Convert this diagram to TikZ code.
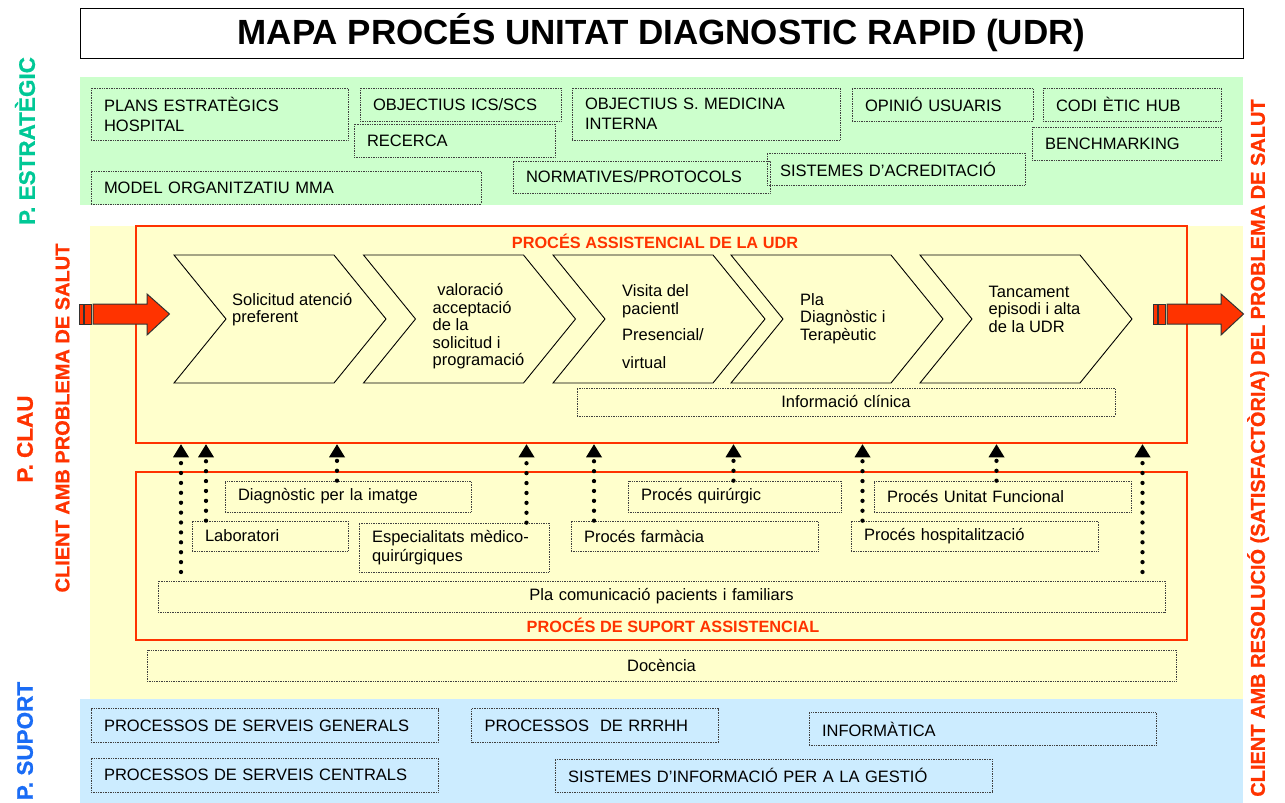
\documentclass[tikz,border=0pt]{standalone}
\usepackage{fontspec}
\setmainfont{Liberation Sans}
\setsansfont{Liberation Sans}
\newfontfamily\sidefont{Liberation Sans Bold}[FakeBold=0.8]
\usetikzlibrary{arrows.meta}

\definecolor{redudr}{HTML}{FF3300}
\definecolor{greenbg}{HTML}{CCFFCC}
\definecolor{yellowbg}{HTML}{FFFFCC}
\definecolor{bluebg}{HTML}{CCECFF}
\definecolor{tealstrat}{HTML}{00C896}
\definecolor{bluesup}{HTML}{1A6CF5}

\begin{document}
\begin{tikzpicture}[x = 1pt, y = -1pt, font=\sffamily]
	\tikzstyle{dotbox}=[draw = black!75, densely dotted, line width = 0.7pt, inner xsep = 13pt, inner ysep = 0pt, align = left, font = \fontsize{16.5}{20}\selectfont]
	\tikzstyle{procbox}=[draw = redudr, line width = 2.5pt]
	\tikzstyle{proctitle}=[text = redudr, inner sep = 0pt, font = \bfseries\fontsize{16.3}{18}\selectfont]
	\tikzstyle{chevron}=[draw = black, line width = 0.9pt, fill = yellowbg]
	\tikzstyle{steptext}=[inner sep = 0pt, align = left, anchor = west, font = \fontsize{16.5}{17.5}\selectfont]
	\tikzstyle{sidelabel}=[rotate = 90, inner sep = 0pt, font = \sidefont\fontsize{22.5}{24}\selectfont]
	\tikzstyle{clientlabel}=[rotate = 90, inner sep = 0pt, text = redudr, font = \sidefont\fontsize{20}{22}\selectfont]
	\tikzstyle{bigarrow}=[fill = redudr, draw = black!80, line width = 1pt]
	\tikzstyle{suparrow}=[line width = 4.3pt, line cap = round, dash pattern = on 0pt off 9.9pt, -{Triangle[width = 16pt, length = 13pt, line width = 0pt]}]
	\useasboundingbox (0,0) rectangle (1285,803);
	% bands
	\fill[greenbg] (80,77) rectangle (1243,205);
	\fill[yellowbg] (90,226) rectangle (1243,699);
	\fill[bluebg] (80,699) rectangle (1243,803);
	% title
	\node[draw, line width = 1pt, minimum width = 1163pt, minimum height = 50pt, font = \bfseries\fontsize{35}{38}\selectfont] (title) at (661.5,33) {MAPA PROCÉS UNITAT DIAGNOSTIC RAPID (UDR)};
	% side labels
	\node[sidelabel, text = tealstrat] (pestrat) at (25,141) {P. ESTRATÈGIC};
	\node[sidelabel, text = redudr] (pclau) at (25,439) {P. CLAU};
	\node[sidelabel, text = bluesup] (psuport) at (25,741) {P. SUPORT};
	\node[clientlabel] (clientin) at (62.5,418) {CLIENT AMB PROBLEMA DE SALUT};
	\node[clientlabel] (clientout) at (1258,448) {CLIENT AMB RESOLUCIÓ (SATISFACTÒRIA) DEL PROBLEMA DE SALUT};
	% estrategic
	\node[dotbox, text width = 231pt, minimum height = 52pt] (plans) at (219.5,114) {PLANS ESTRATÈGICS\\HOSPITAL};
	\node[dotbox, text width = 175pt, minimum height = 33pt] (objics) at (460.5,104.5) {OBJECTIUS ICS/SCS};
	\node[dotbox, text width = 175pt, minimum height = 33pt] (recerca) at (454.5,140.5) {RECERCA};
	\node[dotbox, text width = 242pt, minimum height = 52pt] (objmed) at (706,114) {OBJECTIUS S. MEDICINA\\INTERNA};
	\node[dotbox, text width = 155pt, minimum height = 33pt] (opinio) at (942.5,104.5) {OPINIÓ USUARIS};
	\node[dotbox, text width = 152pt, minimum height = 33pt] (codi) at (1132,104.5) {CODI ÈTIC HUB};
	\node[dotbox, text width = 163pt, minimum height = 33pt] (bench) at (1126.5,143.5) {BENCHMARKING};
	\node[dotbox, text width = 232pt, minimum height = 32pt] (acred) at (896,169) {SISTEMES D’ACREDITACIÓ};
	\node[dotbox, text width = 231pt, minimum height = 32pt] (normat) at (641.5,177) {NORMATIVES/PROTOCOLS};
	\node[dotbox, text width = 364pt, minimum height = 33pt] (model) at (286,187.5) {MODEL ORGANITZATIU MMA};
	% proces assistencial
	\node[procbox, minimum width = 1051pt, minimum height = 217pt] (assist) at (661.5,334.5) {};
	\node[proctitle] (assisttitle) at (655,241.5) {PROCÉS ASSISTENCIAL DE LA UDR};
	\foreach \x in {174, 363.5, 553, 731, 920}
		\draw[chevron] (\x,255) -- ++(160,0) -- ++(52,64) -- ++(-52,64) -- ++(-160,0) -- ++(52,-64) -- cycle;
	\node[steptext] (step1) at (232,309.5) {Solicitud atenció\\preferent};
	\node[steptext] (step2) at (432.5,326.5) {\ valoració\\acceptació\\de la\\solicitud i\\programació};
	\node[steptext] (step3) at (622,326.5) {Visita del\\pacientl\\[8.5pt]Presencial/\\[10.5pt]virtual};
	\node[steptext] (step4) at (800,318.5) {Pla\\Diagnòstic i\\Terapèutic};
	\node[steptext] (step5) at (988.5,309) {Tancament\\episodi i alta\\de la UDR};
	\node[dotbox, align = center, text width = 512pt, minimum height = 28pt] (infocl) at (846,402) {Informació clínica};
	% proces de suport
	\node[procbox, minimum width = 1051pt, minimum height = 168pt] (suport) at (661.5,556) {};
	\node[proctitle] (suporttitle) at (673,625.5) {PROCÉS DE SUPORT ASSISTENCIAL};
	\node[dotbox, text width = 220pt, minimum height = 31pt] (diag) at (348,496.5) {Diagnòstic per la imatge};
	\node[dotbox, text width = 130pt, minimum height = 30pt] (lab) at (270,536) {Laboratori};
	\node[dotbox, text width = 164pt, minimum height = 49pt, font = \fontsize{16.5}{19}\selectfont] (espec) at (454,547.5) {Especialitats mèdico-\\quirúrgiques};
	\node[dotbox, text width = 187pt, minimum height = 31pt] (quir) at (734.5,496.5) {Procés quirúrgic};
	\node[dotbox, text width = 221pt, minimum height = 30pt] (farm) at (694.5,536) {Procés farmàcia};
	\node[dotbox, text width = 231pt, minimum height = 31pt] (unitf) at (1002.5,496.5) {Procés Unitat Funcional};
	\node[dotbox, text width = 221pt, minimum height = 30pt] (hosp) at (974.5,536) {Procés hospitalització};
	\node[dotbox, align = center, text width = 981pt, minimum height = 31pt] (placom) at (661.5,596.5) {Pla comunicació pacients i familiars};
	\node[dotbox, align = center, text width = 1003pt, minimum height = 31pt] (docencia) at (661.5,665.5) {Docència};
	% suport
	\node[dotbox, text width = 321pt, minimum height = 34pt] (servgen) at (264.5,725.5) {PROCESSOS DE SERVEIS GENERALS};
	\node[dotbox, text width = 221pt, minimum height = 34pt] (rrhh) at (595,725.5) {PROCESSOS~~DE RRRHH};
	\node[dotbox, text width = 321pt, minimum height = 33pt] (informat) at (982.5,729) {INFORMÀTICA};
	\node[dotbox, text width = 321pt, minimum height = 34pt] (servcen) at (264.5,775) {PROCESSOS DE SERVEIS CENTRALS};
	\node[dotbox, text width = 411pt, minimum height = 33pt] (sistinfo) at (773.5,775.5) {SISTEMES D’INFORMACIÓ PER A LA GESTIÓ};
	% entrada i sortida
	\foreach \dx in {0, 1074} {
		\draw[bigarrow, xshift = \dx pt] (79,304) rectangle (83,324);
		\draw[bigarrow, xshift = \dx pt] (84.5,304) rectangle (91,324);
		\draw[bigarrow, xshift = \dx pt] (93,304) -- (147,304) -- (147,294) -- (169.5,314) -- (147,335) -- (147,324) -- (93,324) -- cycle;
	}
	% fletxes de suport
	\coordinate (inleft) at (181,572);
	\coordinate (inright) at (1142.5,572);
	\draw[suparrow] (inleft) -- (assist.south -| inleft);
	\draw[suparrow] (inright) -- (assist.south -| inright);
	\foreach \n/\x in {lab/206, diag/337, espec/526.5, farm/594, quir/733.5, hosp/862.5, unitf/996.5}
		\draw[suparrow] (\n.north -| \x,0) -- (assist.south -| \x,0);
\end{tikzpicture}
\end{document}
